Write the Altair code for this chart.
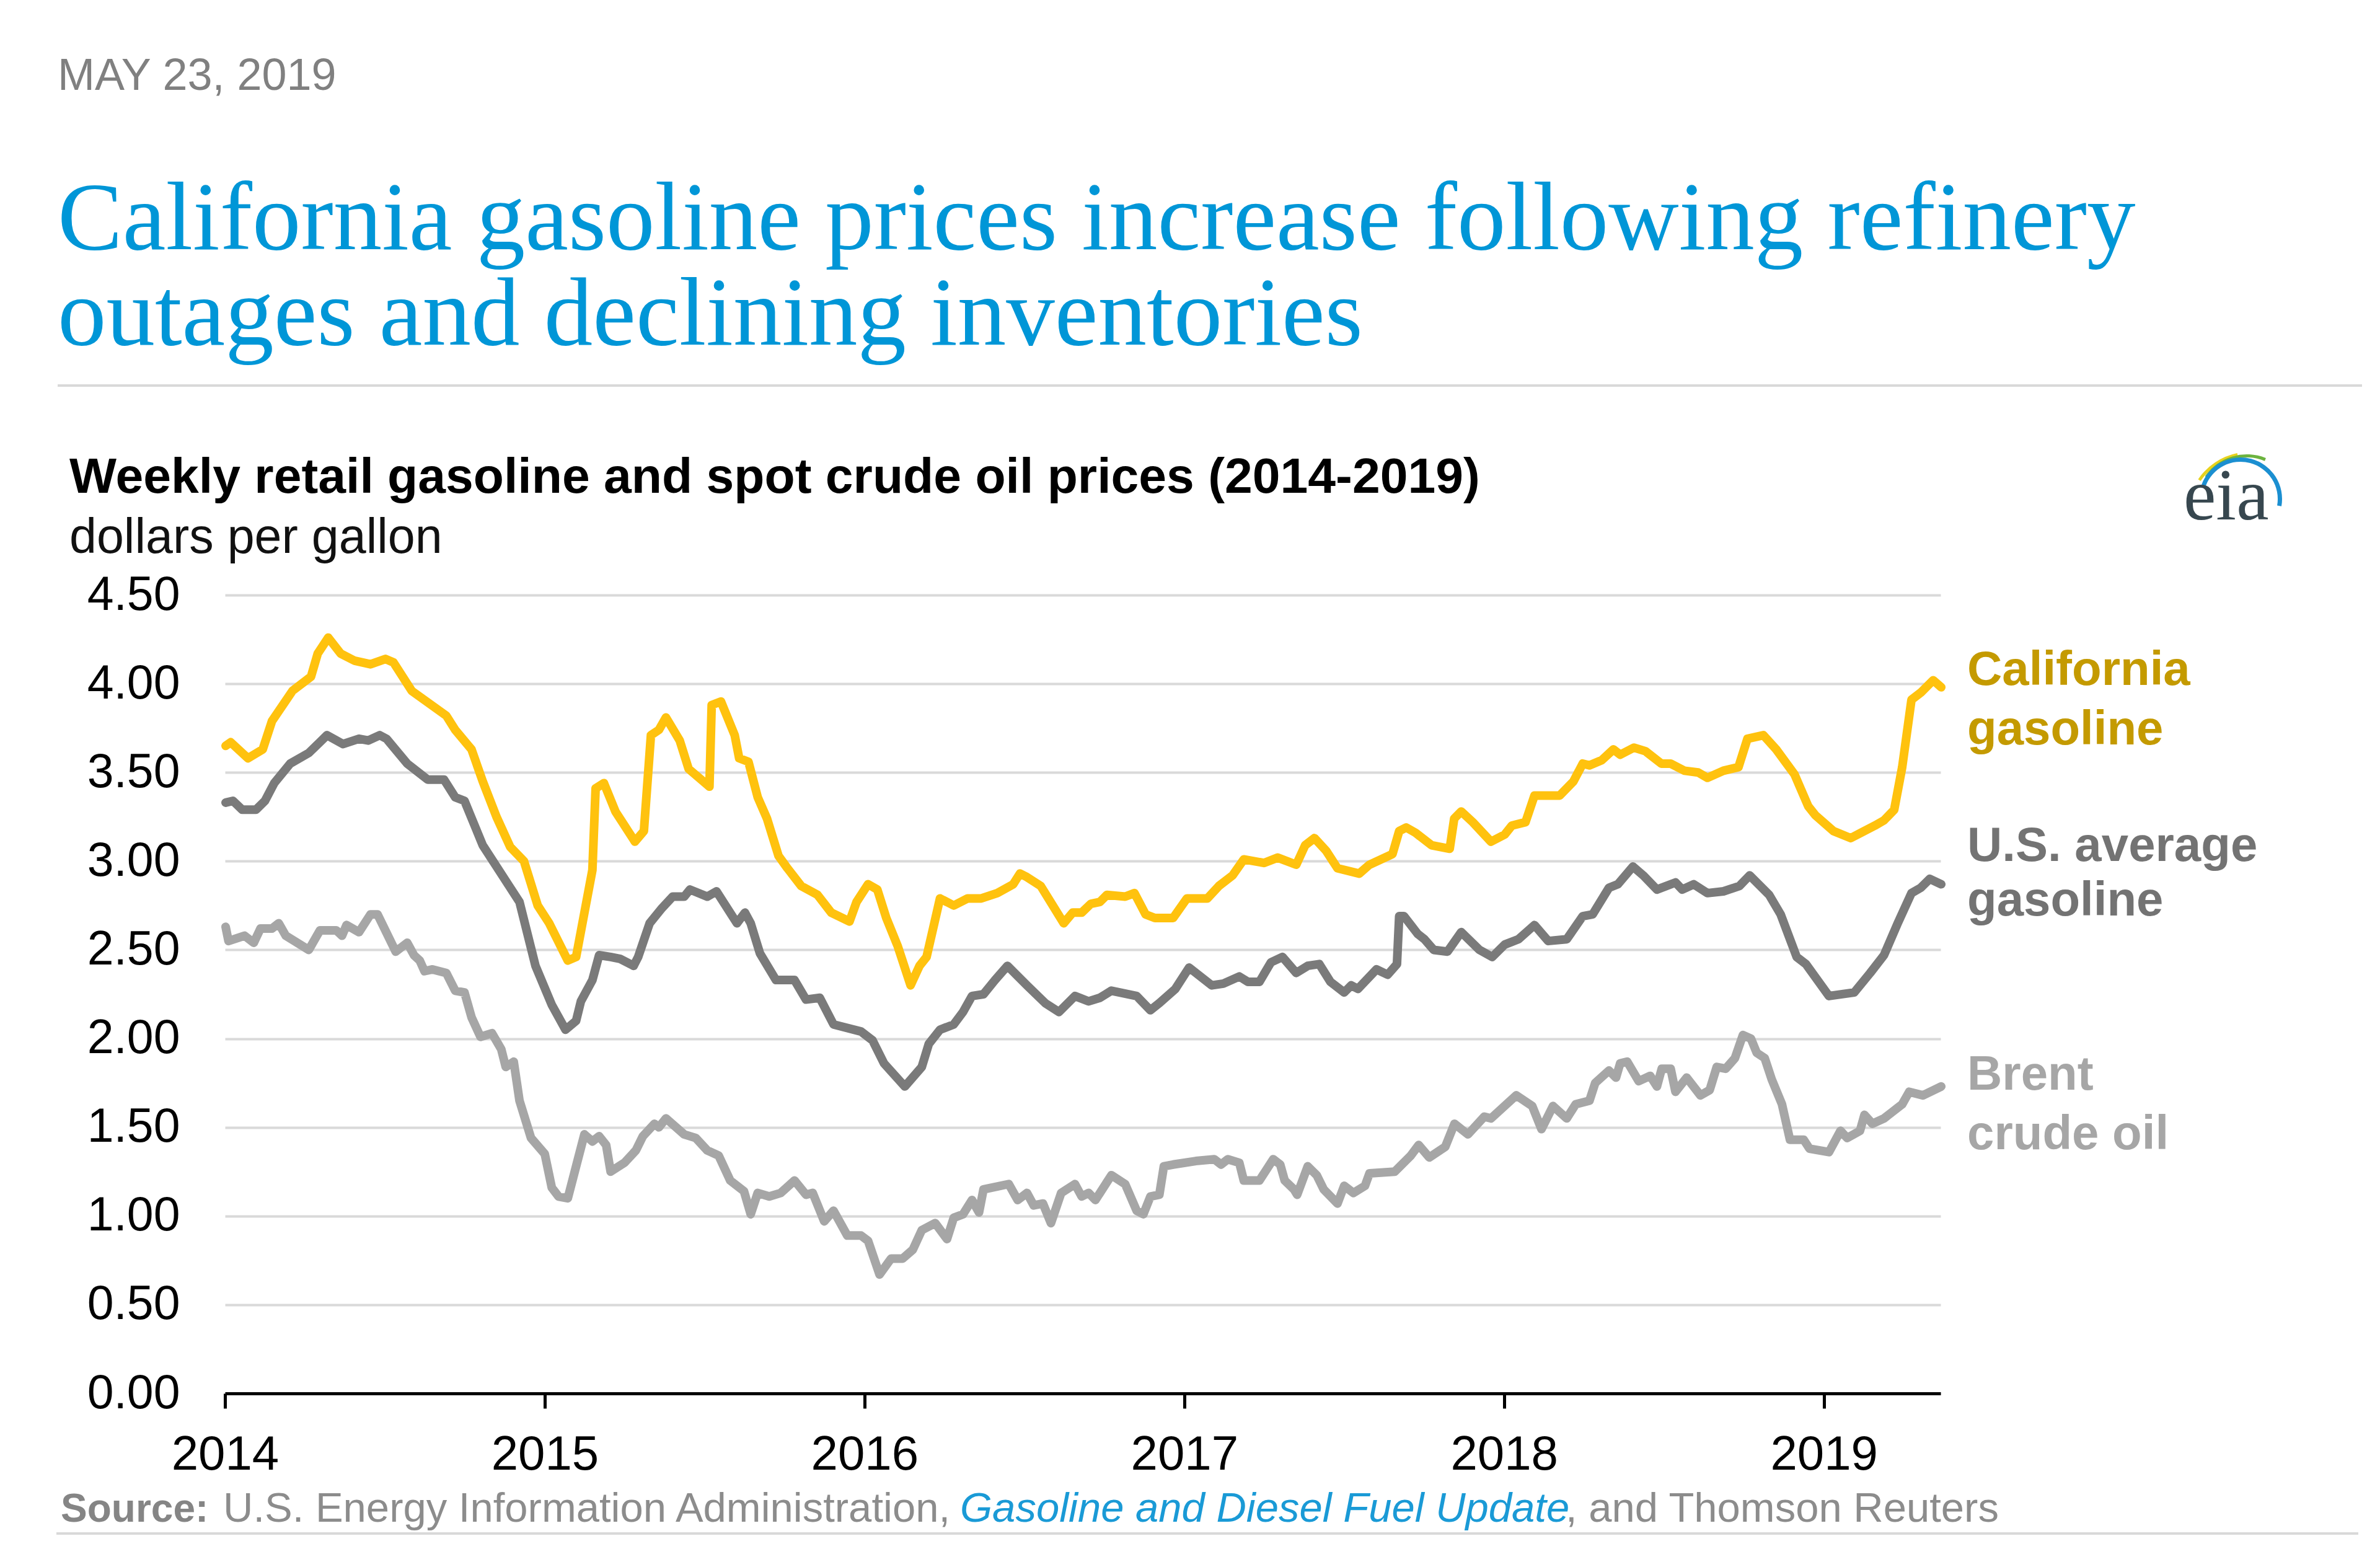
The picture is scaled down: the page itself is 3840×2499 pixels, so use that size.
import altair as alt
import pandas as pd

# ---------------- data ----------------
series_names = ["California gasoline", "U.S. average gasoline", "Brent crude oil"]
line_colors = ["#ffc20e", "#7a7a7a", "#a6a6a6"]
label_colors = ["#c49a00", "#737373", "#a6a6a6"]

year_ticks = [2014, 2015, 2016, 2017, 2018, 2019]
price_ticks = [0.0, 0.5, 1.0, 1.5, 2.0, 2.5, 3.0, 3.5, 4.0, 4.5]

ca_year = [2014.002, 2014.018, 2014.072, 2014.118, 2014.147, 2014.211, 2014.269, 2014.290, 2014.323, 2014.362,
           2014.405, 2014.455, 2014.502, 2014.527, 2014.584, 2014.692, 2014.720, 2014.771, 2014.806, 2014.849,
           2014.892, 2014.935, 2014.978, 2015.014, 2015.072, 2015.098, 2015.149, 2015.159, 2015.185, 2015.221,
           2015.282, 2015.310, 2015.332, 2015.357, 2015.379, 2015.422, 2015.450, 2015.515, 2015.522, 2015.551,
           2015.594, 2015.608, 2015.637, 2015.666, 2015.695, 2015.731, 2015.759, 2015.802, 2015.853, 2015.896,
           2015.953, 2015.975, 2016.011, 2016.040, 2016.068, 2016.104, 2016.144, 2016.172, 2016.194, 2016.236,
           2016.279, 2016.322, 2016.365, 2016.415, 2016.465, 2016.486, 2016.508, 2016.551, 2016.623, 2016.651,
           2016.679, 2016.708, 2016.736, 2016.758, 2016.815, 2016.844, 2016.879, 2016.908, 2016.965, 2017.008,
           2017.072, 2017.108, 2017.151, 2017.186, 2017.249, 2017.292, 2017.350, 2017.378, 2017.407, 2017.443,
           2017.479, 2017.547, 2017.579, 2017.651, 2017.672, 2017.694, 2017.723, 2017.773, 2017.830, 2017.844,
           2017.866, 2017.902, 2017.959, 2018.002, 2018.024, 2018.067, 2018.095, 2018.174, 2018.217, 2018.246,
           2018.267, 2018.306, 2018.342, 2018.363, 2018.406, 2018.442, 2018.492, 2018.521, 2018.564, 2018.607,
           2018.636, 2018.686, 2018.733, 2018.761, 2018.811, 2018.851, 2018.908, 2018.951, 2018.973, 2019.030,
           2019.084, 2019.116, 2019.159, 2019.188, 2019.220, 2019.245, 2019.274, 2019.303, 2019.342, 2019.367]
ca_price = [3.65, 3.67, 3.58, 3.63, 3.79, 3.96, 4.04, 4.17, 4.26, 4.17,
            4.13, 4.11, 4.14, 4.12, 3.96, 3.82, 3.74, 3.63, 3.45, 3.25,
            3.08, 3.00, 2.75, 2.65, 2.44, 2.46, 2.95, 3.41, 3.44, 3.28,
            3.11, 3.17, 3.71, 3.74, 3.81, 3.68, 3.52, 3.42, 3.88, 3.90,
            3.71, 3.58, 3.56, 3.36, 3.24, 3.03, 2.96, 2.86, 2.81, 2.71,
            2.66, 2.77, 2.87, 2.84, 2.68, 2.52, 2.30, 2.41, 2.46, 2.79,
            2.75, 2.79, 2.79, 2.82, 2.87, 2.93, 2.91, 2.86, 2.65, 2.71,
            2.71, 2.76, 2.77, 2.81, 2.80, 2.82, 2.70, 2.68, 2.68, 2.79,
            2.79, 2.86, 2.92, 3.01, 2.99, 3.02, 2.98, 3.09, 3.13, 3.06,
            2.96, 2.93, 2.98, 3.04, 3.17, 3.19, 3.16, 3.09, 3.07, 3.24,
            3.28, 3.22, 3.11, 3.15, 3.20, 3.22, 3.37, 3.37, 3.45, 3.55,
            3.54, 3.57, 3.63, 3.60, 3.64, 3.62, 3.55, 3.55, 3.51, 3.50,
            3.47, 3.51, 3.53, 3.69, 3.71, 3.63, 3.49, 3.31, 3.26, 3.17,
            3.13, 3.16, 3.20, 3.23, 3.29, 3.53, 3.91, 3.95, 4.02, 3.98]

us_year = [2014.002, 2014.025, 2014.054, 2014.097, 2014.125, 2014.154, 2014.204, 2014.262, 2014.319, 2014.369,
           2014.419, 2014.448, 2014.484, 2014.505, 2014.570, 2014.634, 2014.685, 2014.720, 2014.749, 2014.806,
           2014.885, 2014.921, 2014.971, 2015.022, 2015.065, 2015.098, 2015.113, 2015.149, 2015.170, 2015.206,
           2015.235, 2015.278, 2015.292, 2015.328, 2015.364, 2015.400, 2015.436, 2015.454, 2015.508, 2015.537,
           2015.601, 2015.626, 2015.644, 2015.673, 2015.723, 2015.781, 2015.817, 2015.860, 2015.903, 2015.989,
           2016.025, 2016.061, 2016.126, 2016.179, 2016.201, 2016.236, 2016.279, 2016.308, 2016.336, 2016.372,
           2016.408, 2016.447, 2016.508, 2016.565, 2016.608, 2016.658, 2016.701, 2016.736, 2016.772, 2016.851,
           2016.894, 2016.922, 2016.972, 2017.015, 2017.086, 2017.122, 2017.172, 2017.199, 2017.235, 2017.271,
           2017.307, 2017.350, 2017.386, 2017.422, 2017.457, 2017.500, 2017.522, 2017.543, 2017.601, 2017.636,
           2017.665, 2017.672, 2017.687, 2017.730, 2017.751, 2017.780, 2017.823, 2017.866, 2017.923, 2017.963,
           2018.002, 2018.045, 2018.095, 2018.138, 2018.196, 2018.246, 2018.277, 2018.328, 2018.356, 2018.403,
           2018.435, 2018.478, 2018.536, 2018.557, 2018.593, 2018.636, 2018.686, 2018.736, 2018.768, 2018.829,
           2018.865, 2018.915, 2018.944, 2019.016, 2019.095, 2019.145, 2019.188, 2019.231, 2019.274, 2019.303,
           2019.331, 2019.367]
us_price = [3.33, 3.34, 3.29, 3.29, 3.34, 3.44, 3.55, 3.61, 3.71, 3.66,
            3.69, 3.68, 3.71, 3.69, 3.55, 3.46, 3.46, 3.36, 3.34, 3.09,
            2.87, 2.77, 2.41, 2.19, 2.05, 2.10, 2.21, 2.33, 2.47, 2.46,
            2.45, 2.41, 2.46, 2.65, 2.73, 2.80, 2.80, 2.84, 2.80, 2.83,
            2.65, 2.71, 2.65, 2.48, 2.33, 2.33, 2.22, 2.23, 2.08, 2.04,
            1.99, 1.86, 1.73, 1.84, 1.97, 2.05, 2.08, 2.15, 2.24, 2.25,
            2.33, 2.41, 2.30, 2.20, 2.15, 2.24, 2.21, 2.23, 2.27, 2.24,
            2.16, 2.20, 2.28, 2.40, 2.30, 2.31, 2.35, 2.32, 2.32, 2.43,
            2.46, 2.37, 2.41, 2.42, 2.32, 2.26, 2.30, 2.28, 2.39, 2.36,
            2.42, 2.69, 2.69, 2.59, 2.56, 2.50, 2.49, 2.60, 2.50, 2.46,
            2.53, 2.56, 2.64, 2.55, 2.56, 2.69, 2.70, 2.85, 2.87, 2.97,
            2.92, 2.84, 2.88, 2.84, 2.87, 2.82, 2.83, 2.86, 2.92, 2.81,
            2.70, 2.46, 2.42, 2.24, 2.26, 2.37, 2.47, 2.65, 2.82, 2.85,
            2.90, 2.87]

brent_year = [2014.002, 2014.011, 2014.061, 2014.090, 2014.111, 2014.147, 2014.168, 2014.190, 2014.262, 2014.297,
              2014.348, 2014.366, 2014.380, 2014.419, 2014.455, 2014.477, 2014.534, 2014.570, 2014.591, 2014.609,
              2014.624, 2014.649, 2014.692, 2014.720, 2014.749, 2014.771, 2014.799, 2014.835, 2014.864, 2014.878,
              2014.903, 2014.921, 2014.957, 2015.000, 2015.022, 2015.043, 2015.072, 2015.098, 2015.124, 2015.149,
              2015.170, 2015.192, 2015.206, 2015.249, 2015.285, 2015.307, 2015.343, 2015.357, 2015.379, 2015.436,
              2015.472, 2015.508, 2015.544, 2015.580, 2015.623, 2015.644, 2015.666, 2015.702, 2015.738, 2015.781,
              2015.817, 2015.838, 2015.874, 2015.903, 2015.946, 2015.989, 2016.011, 2016.047, 2016.083, 2016.119,
              2016.151, 2016.179, 2016.221, 2016.258, 2016.279, 2016.308, 2016.336, 2016.358, 2016.372, 2016.451,
              2016.479, 2016.508, 2016.529, 2016.558, 2016.583, 2016.615, 2016.658, 2016.679, 2016.701, 2016.722,
              2016.772, 2016.815, 2016.851, 2016.872, 2016.894, 2016.922, 2016.936, 2016.965, 2017.036, 2017.094,
              2017.115, 2017.136, 2017.172, 2017.186, 2017.235, 2017.278, 2017.300, 2017.314, 2017.343, 2017.353,
              2017.386, 2017.414, 2017.436, 2017.479, 2017.500, 2017.529, 2017.565, 2017.579, 2017.658, 2017.708,
              2017.733, 2017.766, 2017.816, 2017.845, 2017.887, 2017.938, 2017.959, 2018.038, 2018.088, 2018.117,
              2018.153, 2018.196, 2018.224, 2018.267, 2018.285, 2018.328, 2018.350, 2018.363, 2018.385, 2018.421,
              2018.457, 2018.478, 2018.493, 2018.521, 2018.536, 2018.571, 2018.614, 2018.643, 2018.665, 2018.693,
              2018.722, 2018.747, 2018.772, 2018.790, 2018.815, 2018.837, 2018.869, 2018.894, 2018.937, 2018.955,
              2019.016, 2019.052, 2019.073, 2019.113, 2019.127, 2019.152, 2019.188, 2019.245, 2019.267, 2019.310,
              2019.367]
brent_price = [2.63, 2.55, 2.58, 2.54, 2.62, 2.62, 2.65, 2.58, 2.50, 2.61,
               2.61, 2.58, 2.64, 2.60, 2.70, 2.70, 2.49, 2.54, 2.47, 2.44,
               2.38, 2.39, 2.37, 2.27, 2.26, 2.12, 2.01, 2.03, 1.94, 1.84,
               1.87, 1.65, 1.44, 1.35, 1.16, 1.11, 1.10, 1.28, 1.46, 1.42,
               1.45, 1.40, 1.25, 1.30, 1.37, 1.45, 1.52, 1.50, 1.55, 1.46,
               1.44, 1.37, 1.34, 1.20, 1.14, 1.01, 1.13, 1.11, 1.13, 1.20,
               1.12, 1.13, 0.97, 1.03, 0.89, 0.89, 0.86, 0.67, 0.76, 0.76,
               0.81, 0.92, 0.96, 0.87, 0.99, 1.01, 1.09, 1.02, 1.15, 1.18,
               1.09, 1.13, 1.06, 1.07, 0.96, 1.13, 1.18, 1.11, 1.13, 1.09,
               1.23, 1.18, 1.03, 1.01, 1.11, 1.12, 1.28, 1.29, 1.31, 1.32,
               1.29, 1.32, 1.30, 1.20, 1.20, 1.32, 1.29, 1.20, 1.15, 1.12,
               1.28, 1.23, 1.15, 1.07, 1.17, 1.13, 1.17, 1.24, 1.25, 1.34,
               1.40, 1.33, 1.39, 1.52, 1.46, 1.56, 1.55, 1.68, 1.62, 1.49,
               1.62, 1.55, 1.63, 1.65, 1.75, 1.82, 1.78, 1.86, 1.87, 1.76,
               1.79, 1.73, 1.83, 1.83, 1.70, 1.78, 1.68, 1.71, 1.84, 1.83,
               1.89, 2.02, 2.00, 1.92, 1.89, 1.77, 1.63, 1.43, 1.43, 1.38,
               1.36, 1.48, 1.44, 1.48, 1.57, 1.52, 1.55, 1.63, 1.70, 1.68,
               1.73]

date_text = "MAY 23, 2019"
title_lines = ["California gasoline prices increase following refinery",
               "outages and declining inventories"]
subtitle_text = "Weekly retail gasoline and spot crude oil prices (2014-2019)"
units_text = "dollars per gallon"
series_label_lines = [["California", "gasoline"], ["U.S. average", "gasoline"], ["Brent", "crude oil"]]
source_parts = ["Source:", "U.S. Energy Information Administration,", "Gasoline and Diesel Fuel Update",
                ", and Thomson Reuters"]
logo_text = "eia"

# ---------------- build chart ----------------
SANS = "Liberation Sans"
SERIF = "Liberation Serif"
W, H = 2768, 1288

frames = []
for name, xs, ys in zip(series_names, [ca_year, us_year, brent_year], [ca_price, us_price, brent_price]):
    frames.append(pd.DataFrame({"year": xs, "price": ys, "series": name}))
df = pd.concat(frames, ignore_index=True)

lines = alt.Chart(df).mark_line(strokeWidth=14, strokeJoin="round", strokeCap="round").encode(
    x=alt.X("year:Q",
            scale=alt.Scale(domain=[2014, 2019.365], nice=False, zero=False),
            axis=alt.Axis(values=year_ticks, format="d", title=None, grid=False,
                          labelFontSize=78, labelFont=SANS, labelColor="#000000",
                          labelPadding=36, labelFlush=False, labelOverlap=False,
                          tickSize=24, tickWidth=5, tickColor="#000000",
                          domainColor="#000000", domainWidth=5)),
    y=alt.Y("price:Q",
            scale=alt.Scale(domain=[0, 4.5], nice=False),
            axis=alt.Axis(values=price_ticks, format=".2f", title=None, grid=True,
                          gridColor="#d9d9d9", gridWidth=4, domain=False, ticks=False, tickSize=0,
                          labelFontSize=77, labelFont=SANS, labelColor="#000000",
                          labelPadding=73, labelOverlap=False)),
    color=alt.Color("series:N", scale=alt.Scale(domain=series_names, range=line_colors), legend=None),
    order=alt.Order("year:Q"),
)


def text_layer(txt, x, y, size, color, font=SANS, weight="normal", style="normal", align="left"):
    return alt.Chart(pd.DataFrame({"label": [txt]})).mark_text(
        align=align, baseline="alphabetic", font=font, fontSize=size,
        fontWeight=weight, fontStyle=style, color=color,
    ).encode(x=alt.value(x), y=alt.value(y), text="label:N")


def hrule(x1, x2, y, color, width):
    return alt.Chart(pd.DataFrame({"r": [0]})).mark_rule(color=color, strokeWidth=width).encode(
        x=alt.value(x1), x2=alt.value(x2), y=alt.value(y))


def arc(cx, cy, r_out, r_in, t1, t2, color):
    return alt.Chart(pd.DataFrame({"a": [0]})).mark_arc(color=color).encode(
        x=alt.value(cx), y=alt.value(cy), radius=alt.value(r_out), radius2=alt.value(r_in),
        theta=alt.value(t1), theta2=alt.value(t2))


layers = [lines]
# header
layers.append(text_layer(date_text, -270, -815, 72, "#808080"))
layers.append(text_layer(title_lines[0], -270, -558, 157, "#0096d7", font=SERIF))
layers.append(text_layer(title_lines[1], -270, -404, 157, "#0096d7", font=SERIF))
layers.append(hrule(-270, 3448, -338, "#d9d9d9", 4))
layers.append(text_layer(subtitle_text, -251, -165, 80.5, "#000000", weight="bold"))
layers.append(text_layer(units_text, -251, -68, 79, "#111111"))
# eia logo
layers.append(arc(3267, -130, 101, 96, 5.31, 6.08, "#e8d21d"))
layers.append(arc(3262, -145, 82, 77, 5.32, 6.67, "#6cb33f"))
layers.append(arc(3252, -155, 67, 60, 5.06, 8.03, "#1b8fd1"))
layers.append(text_layer(logo_text, 3160, -122, 118, "#37474f", font=SERIF))
# series labels
label_baselines = [[145, 241], [429, 517], [798, 894]]
for lines_txt, ys, col in zip(series_label_lines, label_baselines, label_colors):
    for t, yy in zip(lines_txt, ys):
        layers.append(text_layer(t, 2811, yy, 78, col, weight="bold"))
# source
layers.append(text_layer(source_parts[0], -265, 1495, 64, "#858585", weight="bold"))
layers.append(text_layer(source_parts[1], -3, 1495, 67, "#8c8c8c"))
layers.append(text_layer(source_parts[2], 1186, 1495, 67, "#1a9ad6", style="italic"))
layers.append(text_layer(source_parts[3], 2163, 1495, 67, "#8c8c8c"))
layers.append(hrule(-272, 3442, 1514, "#d9d9d9", 4))

chart = alt.layer(*layers).properties(
    width=W, height=H,
    padding={"left": 363, "top": 960, "right": 709, "bottom": 251},
    autosize=alt.AutoSizeParams(type="none"),
    background="white",
).configure_view(strokeWidth=0)

chart.save("out.html", embed_options={"renderer": "svg", "actions": False})
